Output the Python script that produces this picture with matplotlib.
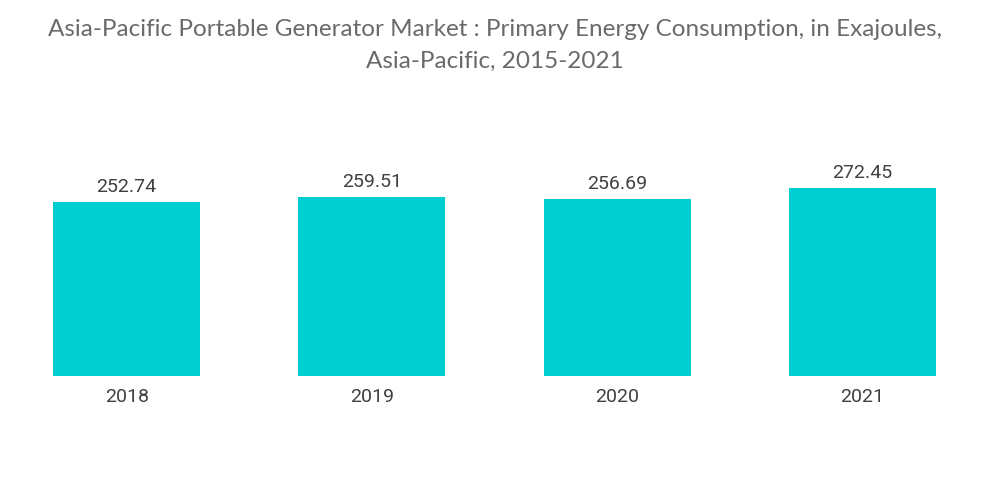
import matplotlib
matplotlib.use("Agg")
import matplotlib.pyplot as plt

years = ["2018", "2019", "2020", "2021"]
values = [252.74, 259.51, 256.69, 272.45]

title = ("Asia-Pacific Portable Generator Market : Primary Energy Consumption, in Exajoules,\n"
         "Asia-Pacific, 2015-2021")

fig = plt.figure(figsize=(10, 5.04), dpi=100)
ax = fig.add_axes([0.004, 0.254, 0.981, 0.508])

x = range(len(years))
bars = ax.bar(x, values, width=0.6, color="#00CED1")

for i, v in enumerate(values):
    ax.text(i, v + 9, f"{v:.2f}", ha="center", va="bottom",
            fontsize=14, family="Roboto", color="#404040")

ax.set_xlim(-0.5, 3.5)
ax.set_ylim(0, 372)
ax.set_xticks(list(x))
ax.set_xticklabels(years, family="Roboto", fontsize=14, color="#404040")
ax.tick_params(axis="x", length=0, pad=9)
ax.set_yticks([])
for s in ax.spines.values():
    s.set_visible(False)

fig.text(0.495, 0.962, title, ha="center", va="top", fontsize=17.5,
         family="Lato", color="#6a6a6a", linespacing=1.6)

fig.savefig("out.png", dpi=100)
